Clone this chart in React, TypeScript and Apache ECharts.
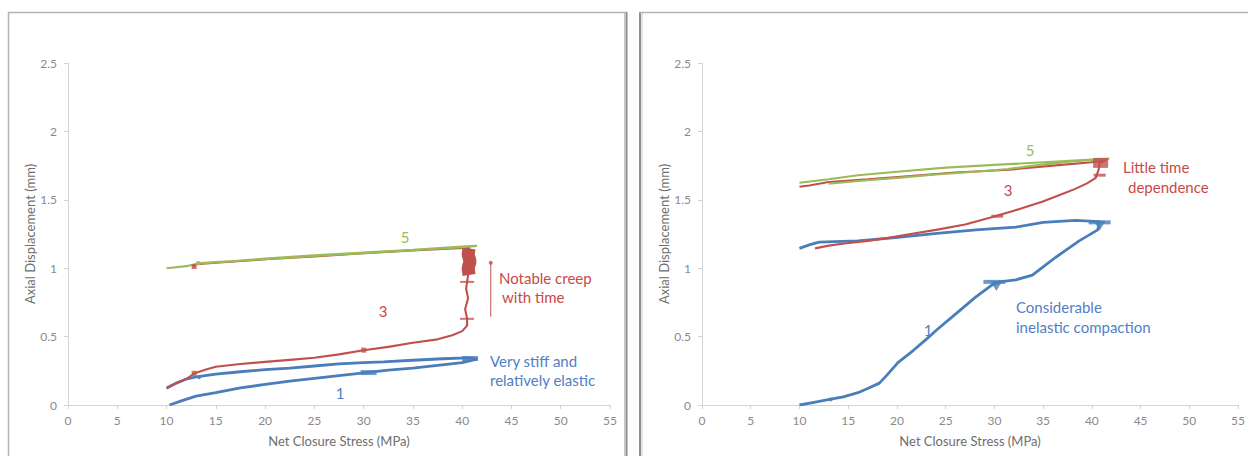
import React, { useEffect, useRef } from "react";
import * as echarts from "echarts";

// ---------- axes ----------
const xTickValues = [0, 5, 10, 15, 20, 25, 30, 35, 40, 45, 50, 55];
const yTickValues = [0, 0.5, 1, 1.5, 2, 2.5];
const xAxisTitle = "Net Closure Stress (MPa)";
const yAxisTitle = "Axial Displacement (mm)";

// ---------- left panel (stiff, elastic) ----------
const leftCycle1: number[][] = [
  [10.3, 0], [11.5, 0.03], [13, 0.065], [15, 0.09], [17.5, 0.125], [20, 0.15], [22.5, 0.175],
  [25, 0.195], [27.5, 0.215], [30, 0.235], [32.5, 0.255], [35, 0.27], [37.5, 0.29], [40, 0.31],
  [41.5, 0.335], [40.5, 0.345], [38, 0.338], [35, 0.327], [32, 0.315], [30, 0.31], [27.5, 0.3],
  [25, 0.285], [22.5, 0.27], [20, 0.258], [17.5, 0.243], [15, 0.225], [13, 0.205], [12, 0.19],
  [11, 0.16], [10, 0.125],
];
const leftCycle3: number[][] = [
  [10, 0.12], [11, 0.16], [12, 0.19], [12.8, 0.23], [14, 0.26], [15, 0.28], [17.5, 0.3],
  [20, 0.315], [22.5, 0.33], [25, 0.345], [27.5, 0.37], [30, 0.4], [32.5, 0.425], [35, 0.455],
  [37.5, 0.48], [39, 0.51], [40, 0.54], [40.5, 0.58], [40.5, 0.63], [40.3, 0.7], [40.6, 0.78],
  [40.4, 0.85], [40.5, 0.9], [40.6, 0.95], [40.7, 1.15], [38, 1.14], [35, 1.13], [30, 1.11],
  [25, 1.085], [20, 1.065], [15, 1.04], [13, 1.03], [12.7, 1.01],
];
const leftCycle3Creep: number[][] = [
  [40.7, 0.95], [40.6, 1.0], [40.8, 1.05], [40.6, 1.1], [40.7, 1.145],
];
const leftCycle5: number[][] = [
  [10, 1.0], [12, 1.015], [13.2, 1.035], [15, 1.042], [20, 1.07], [25, 1.095], [30, 1.115],
  [35, 1.135], [40, 1.158], [41.5, 1.163], [40, 1.153], [35, 1.132], [30, 1.11], [25, 1.09],
  [20, 1.066], [15, 1.045], [13.2, 1.035],
];
const leftBlueMarks: number[][] = [[30.5, 0.237], [40.8, 0.34]];
const leftBlueDots: number[][] = [[13.3, 0.202]];
const leftRedMarks: number[][] = [[40.5, 0.63], [40.5, 0.9]];
const leftRedDots: number[][] = [[12.8, 0.232], [30, 0.401], [12.8, 1.012]];
const leftGreenDots: number[][] = [[13.2, 1.037]];
const leftCreepArrow: number[][] = [[42.9, 0.645], [42.9, 1.04]];

// ---------- right panel (inelastic) ----------
const rightCycle1: number[][] = [
  [10, 0], [11.5, 0.02], [12.8, 0.037], [14.5, 0.06], [16, 0.09], [17, 0.12], [18.2, 0.16],
  [19, 0.22], [20.1, 0.31], [21.7, 0.4], [23, 0.48], [24.1, 0.55], [26.1, 0.67], [28.1, 0.79],
  [29.8, 0.88], [30.5, 0.9], [32.2, 0.915], [33.9, 0.95], [35, 1.01], [36.3, 1.08], [38.7, 1.2],
  [40.6, 1.28], [40.8, 1.34], [38.3, 1.35], [35, 1.335], [32.2, 1.3], [28.1, 1.28], [24.1, 1.255],
  [20.1, 1.225], [16, 1.2], [12, 1.19], [11, 1.17], [10, 1.145],
];
const rightCycle3: number[][] = [
  [11.6, 1.145], [13, 1.165], [14.6, 1.18], [17, 1.2], [19, 1.22], [21.4, 1.25], [24, 1.28],
  [27, 1.32], [29.8, 1.375], [32, 1.42], [34.9, 1.486], [36.5, 1.53], [38.3, 1.58], [39.5, 1.62],
  [40.4, 1.66], [40.7, 1.72], [40.8, 1.77], [41.5, 1.79], [40, 1.775], [36, 1.75], [31.5, 1.72],
  [26, 1.7], [21.4, 1.674], [17, 1.65], [13, 1.63], [11, 1.605], [10, 1.595],
];
const rightCycle5: number[][] = [
  [10, 1.625], [13, 1.65], [16, 1.68], [20, 1.705], [25, 1.735], [30, 1.755], [35, 1.775],
  [40, 1.795], [41.8, 1.8], [38, 1.78], [34, 1.75], [31.4, 1.725], [28, 1.705], [24, 1.685],
  [20, 1.66], [16, 1.637], [13, 1.617],
];
const rightBlueBars: number[][] = [[30, 0.9], [40.8, 1.335]];
const rightBlueTriangles: number[][] = [[30.2, 0.87], [40.8, 1.31]];
const rightBlueDots: number[][] = [[13.2, 0.04]];
const rightRedBlock: number[][] = [[40.9, 1.77]];
const rightRedMarks: number[][] = [[40.8, 1.68], [30.3, 1.38]];

const BLUE = "#4a7ebb";
const RED = "#c0504d";
const GREEN = "#9bbb59";
const TEXT_BLUE = "#4f7fc6";
const TEXT_RED = "#c74a48";
const FONT = 'Lato, "Open Sans", sans-serif';

function lineSeries(data: number[][], color: string, width: number, idx: number) {
  return {
    type: "line",
    xAxisIndex: idx,
    yAxisIndex: idx,
    data,
    symbol: "none",
    showSymbol: false,
    lineStyle: { color, width },
    z: 2,
  };
}

function markSeries(
  data: number[][],
  color: string,
  size: number | number[],
  idx: number,
  symbol = "rect",
  rotate = 0
) {
  return {
    type: "scatter",
    xAxisIndex: idx,
    yAxisIndex: idx,
    data,
    symbol,
    symbolSize: size,
    symbolRotate: rotate,
    itemStyle: { color },
    z: 3,
  };
}

function makeXAxis(gridIndex: number) {
  return {
    type: "value",
    gridIndex,
    min: xTickValues[0],
    max: xTickValues[xTickValues.length - 1],
    interval: xTickValues[1] - xTickValues[0],
    name: xAxisTitle,
    nameLocation: "middle",
    nameGap: 29,
    nameTextStyle: { color: "#6e6e6e", fontSize: 13, fontFamily: FONT },
    axisLine: { show: true, onZero: false, lineStyle: { color: "#d4d4d4", width: 1 } },
    axisTick: { show: true, length: 4, lineStyle: { color: "#d4d4d4" } },
    axisLabel: { color: "#8a8a8a", fontSize: 12, fontFamily: FONT, margin: 9 },
    splitLine: { show: false },
  };
}

function makeYAxis(gridIndex: number) {
  return {
    type: "value",
    gridIndex,
    min: yTickValues[0],
    max: yTickValues[yTickValues.length - 1],
    interval: yTickValues[1] - yTickValues[0],
    name: yAxisTitle,
    nameLocation: "middle",
    nameGap: 31,
    nameRotate: 90,
    nameTextStyle: { color: "#6e6e6e", fontSize: 13, fontFamily: FONT },
    axisLine: { show: true, onZero: false, lineStyle: { color: "#d4d4d4", width: 1 } },
    axisTick: { show: true, length: 4, lineStyle: { color: "#d4d4d4" } },
    axisLabel: { color: "#8a8a8a", fontSize: 12, fontFamily: FONT, margin: 11 },
    splitLine: { show: false },
  };
}

function txt(text: string, x: number, y: number, color: string, size = 15, align = "left") {
  return {
    type: "text",
    x,
    y,
    style: {
      text,
      fill: color,
      font: `${size}px ${FONT}`,
      align,
      verticalAlign: "middle",
    },
    z: 10,
  };
}

function vline(x: number, y1: number, y2: number, color: string, w: number) {
  return { type: "line", shape: { x1: x, y1, x2: x, y2 }, style: { stroke: color, lineWidth: w }, z: 20 };
}
function hline(y: number, x1: number, x2: number, color: string, w: number) {
  return { type: "line", shape: { x1, y1: y, x2, y2: y }, style: { stroke: color, lineWidth: w }, z: 20 };
}

export default function App() {
  const ref = useRef<HTMLDivElement>(null);

  useEffect(() => {
    if (!ref.current) return;
    const chart = echarts.init(ref.current, undefined, { renderer: "svg" });

    chart.setOption({
      animation: false,
      backgroundColor: "#ffffff",
      grid: [
        { left: 68, top: 63, width: 542, height: 342 },
        { left: 702, top: 63, width: 543, height: 342 },
      ],
      xAxis: [makeXAxis(0), makeXAxis(1)],
      yAxis: [makeYAxis(0), makeYAxis(1)],
      series: [
        // left
        lineSeries(leftCycle1, BLUE, 2.8, 0),
        lineSeries(leftCycle3, RED, 2.1, 0),
        lineSeries(leftCycle3Creep, RED, 13, 0),
        lineSeries(leftCycle5, GREEN, 2.1, 0),
        lineSeries(leftCreepArrow, RED, 1, 0),
        markSeries([leftCreepArrow[1]], RED, 4, 0, "circle"),
        markSeries(leftBlueMarks, BLUE, [16, 5], 0),
        markSeries(leftBlueDots, BLUE, 4, 0, "circle"),
        markSeries(leftRedMarks, RED, [14, 2], 0),
        markSeries(leftRedDots, RED, 5, 0),
        markSeries(leftGreenDots, GREEN, 4, 0),
        // right
        lineSeries(rightCycle1, BLUE, 2.8, 1),
        lineSeries(rightCycle3, RED, 2.1, 1),
        lineSeries(rightCycle5, GREEN, 2.1, 1),
        markSeries(rightBlueBars, BLUE, [22, 4], 1),
        markSeries(rightBlueTriangles, BLUE, [12, 10], 1, "triangle", 180),
        markSeries(rightBlueDots, BLUE, 4, 1, "circle"),
        markSeries(rightRedBlock, RED, [15, 10], 1),
        markSeries(rightRedMarks, RED, [12, 3], 1),
      ],
      graphic: [
        // panel frames
        vline(8.5, 12, 456, "#b4b4b4", 1.5),
        hline(12.5, 8, 627, "#b4b4b4", 1.5),
        vline(624.5, 12, 456, "#c8c8c8", 1),
        vline(626.5, 12, 456, "#8e8e8e", 2),
        vline(640, 12, 456, "#8e8e8e", 2),
        vline(642, 12, 456, "#c8c8c8", 1),
        hline(12.5, 639, 1248, "#b4b4b4", 1.5),
        // left annotations
        txt("5", 405, 237, GREEN, 15, "center"),
        txt("3", 383, 311, TEXT_RED, 15, "center"),
        txt("1", 340, 393, TEXT_BLUE, 15, "center"),
        txt("Notable creep", 499, 278, TEXT_RED),
        txt("with time", 502, 297, TEXT_RED),
        txt("Very stiff and", 490, 361, TEXT_BLUE),
        txt("relatively elastic", 490, 380, TEXT_BLUE),
        // right annotations
        txt("5", 1030, 150, GREEN, 15, "center"),
        txt("3", 1008, 190, TEXT_RED, 15, "center"),
        txt("1", 928, 330, TEXT_BLUE, 15, "center"),
        txt("Little time", 1123, 167, TEXT_RED),
        txt("dependence", 1128, 187, TEXT_RED),
        txt("Considerable", 1016, 307, TEXT_BLUE),
        txt("inelastic compaction", 1016, 327, TEXT_BLUE),
      ],
    });

    return () => chart.dispose();
  }, []);

  return (
    <div
      ref={ref}
      style={{ position: "absolute", left: 0, top: 0, width: 1248, height: 456, background: "#fff" }}
    />
  );
}
